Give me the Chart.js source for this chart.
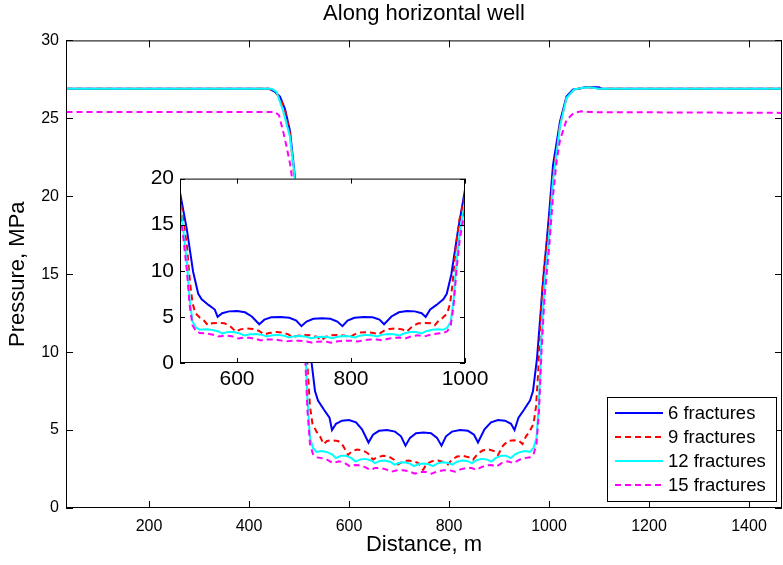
<!DOCTYPE html>
<html>
<head>
<meta charset="utf-8">
<script src="https://cdn.jsdelivr.net/npm/chart.js@4.4.0/dist/chart.umd.min.js"></script>
<style>
  body { margin: 0; background: #fff; }
  #wrap { position: relative; width: 783px; height: 565px; }
  #main { position: absolute; left: 0; top: 0; }
  #inset { position: absolute; left: 130px; top: 160px; }
</style>
</head>
<body>
<div id="wrap">
  <canvas id="main" width="783" height="565"></canvas>
  <canvas id="inset" width="370" height="240"></canvas>
</div>
<script>
// pressure profiles along the horizontal well (distance in m, pressure in MPa)
var dist6 = [35, 440, 452, 462, 472, 482, 490, 500, 512, 523, 532, 538, 550, 561, 566,
  574, 586, 600, 614, 626, 639, 648, 660, 676, 692, 704, 713, 722, 734, 749, 764, 776, 785,
  794, 806, 822, 838, 850, 858, 871, 884, 898, 912, 924, 931, 939, 950, 962, 968, 976, 988,
  1000, 1008, 1022, 1035, 1048, 1060, 1072, 1100, 1105, 1465];
var pres6 = [26.9, 26.9, 26.7, 26.4, 25.6, 24.2, 21.8, 18.5, 14.5, 9.9, 7.5, 6.9, 6.3, 5.8, 5.0,
  5.4, 5.6, 5.65, 5.5, 5.05, 4.2, 4.7, 4.95, 5.0, 4.9, 4.6, 4.0, 4.5, 4.8, 4.85, 4.8, 4.5, 4.0,
  4.6, 4.9, 5.0, 4.95, 4.7, 4.2, 5.05, 5.5, 5.65, 5.6, 5.4, 5.0, 5.8, 6.3, 6.9, 7.5, 9.6, 14.5,
  18.8, 22.0, 24.8, 26.4, 26.85, 26.9, 27.0, 27.0, 26.9, 26.9];

var dist9 = [35, 440, 452, 462, 472, 482, 490, 500, 506, 512, 518, 522, 527, 535, 542, 549,
  556, 566, 578, 588, 598, 606, 616, 628, 638, 648, 656, 668, 680, 690, 698, 706, 718, 730, 740,
  748, 756, 766, 778, 790, 798, 806, 816, 828, 840, 848, 858, 868, 880, 890, 898, 908, 918, 930,
  940, 947, 954, 961, 969, 974, 978, 984, 990, 1000, 1008, 1022, 1035, 1050, 1065, 1080, 1100, 1465];
var pres9 = [26.9, 26.9, 26.7, 26.3, 25.5, 24.0, 21.4, 17.8, 15.5, 12.7, 8.5, 6.5, 5.4, 4.9, 4.6, 4.1,
  4.3, 4.35, 4.3, 4.0, 3.4, 3.65, 3.75, 3.7, 3.5, 3.1, 3.25, 3.35, 3.3, 3.1, 2.8, 2.95, 3.05, 3.0, 2.85,
  2.45, 2.85, 3.0, 3.05, 2.95, 2.8, 3.1, 3.3, 3.35, 3.25, 3.1, 3.5, 3.7, 3.75, 3.65, 3.4, 4.0, 4.3, 4.35,
  4.3, 4.1, 4.6, 4.9, 5.4, 6.5, 8.5, 12.7, 15.5, 18.2, 21.4, 24.6, 26.3, 26.85, 26.95, 27.0, 26.9, 26.9];

var dist12 = [35, 445, 455, 468, 482, 490, 500, 506, 512, 517, 522, 528, 535, 545, 555, 566,
  574, 584, 594, 605, 613, 623, 633, 644, 652, 662, 672, 683, 691, 701, 711, 722, 730, 740, 749,
  758, 768, 776, 787, 797, 807, 815, 826, 836, 846, 854, 865, 875, 885, 893, 904, 914, 924, 932,
  943, 953, 962, 969, 975, 980, 985, 991, 1000, 1008, 1022, 1035, 1050, 1065, 1080, 1100, 1465];
var pres12 = [26.9, 26.9, 26.7, 25.5, 23.8, 21.7, 17.2, 14.3, 11.0, 6.9, 4.5, 3.85, 3.6, 3.65, 3.6, 3.45,
  3.2, 3.35, 3.35, 3.2, 2.98, 3.12, 3.15, 3.05, 2.88, 3.02, 3.05, 2.95, 2.78, 2.9, 2.93, 2.85, 2.68, 2.82, 2.86,
  2.82, 2.68, 2.85, 2.93, 2.9, 2.78, 2.95, 3.05, 3.02, 2.88, 3.05, 3.15, 3.12, 2.98, 3.2, 3.35, 3.35, 3.2, 3.45,
  3.6, 3.65, 3.6, 3.85, 4.5, 6.9, 11.0, 14.3, 17.3, 21.0, 24.5, 26.3, 26.85, 26.95, 27.0, 26.9, 26.9];

var dist15 = [35, 452, 460, 468, 475, 482, 490, 500, 506, 512, 517, 522, 528, 535, 545, 556,
  568, 580, 591, 602, 612, 622, 632, 642, 652, 663, 674, 685, 696, 708, 720, 732, 741, 749, 757,
  765, 777, 789, 801, 812, 823, 834, 845, 855, 865, 875, 885, 895, 906, 917, 929, 941, 952, 962,
  969, 975, 980, 985, 991, 1000, 1008, 1015, 1022, 1035, 1050, 1065, 1080, 1465];
var pres15 = [25.4, 25.4, 25.2, 24.2, 23.2, 22.1, 20.3, 16.4, 13.5, 10.0, 6.2, 4.1, 3.45, 3.25, 3.2, 3.1,
  2.88, 3.0, 2.9, 2.66, 2.76, 2.74, 2.62, 2.45, 2.56, 2.56, 2.48, 2.33, 2.42, 2.42, 2.35, 2.2, 2.3, 2.32, 2.3,
  2.2, 2.35, 2.42, 2.42, 2.33, 2.48, 2.56, 2.56, 2.45, 2.62, 2.74, 2.76, 2.66, 2.9, 3.0, 2.88, 3.1, 3.2, 3.25,
  3.45, 4.1, 6.2, 10.0, 13.5, 16.6, 20.0, 22.2, 23.6, 24.9, 25.35, 25.45, 25.4, 25.35];

var seriesNames = ['6 fractures', '9 fractures', '12 fractures', '15 fractures'];
var xTicks = [200, 400, 600, 800, 1000, 1200, 1400];
var yTicks = [0, 5, 10, 15, 20, 25, 30];
var insetXTicks = [600, 800, 1000];
var insetYTicks = [0, 5, 10, 15, 20];

Chart.defaults.font.family = "'Liberation Sans', Arial, sans-serif";
Chart.defaults.color = '#000';

function pts(xs, ys) {
  return xs.map(function (x, i) { return { x: x, y: ys[i] }; });
}

function makeDatasets() {
  var styles = [
    { color: '#0000ff', dash: [], order: 4 },
    { color: '#ff0000', dash: [6, 4], order: 3 },
    { color: '#00ffff', dash: [], order: 2 },
    { color: '#ff00ff', dash: [6, 4], order: 1 }
  ];
  var data = [pts(dist6, pres6), pts(dist9, pres9), pts(dist12, pres12), pts(dist15, pres15)];
  return data.map(function (d, i) {
    return {
      label: seriesNames[i],
      data: d,
      borderColor: styles[i].color,
      borderDash: styles[i].dash,
      borderWidth: 2,
      pointRadius: 0,
      tension: 0,
      fill: false,
      order: styles[i].order
    };
  });
}

// box round the axes with inward tick marks on all four sides
function boxPlugin(xt, yt, len) {
  return {
    id: 'box',
    beforeDraw: function (chart) {
      var a = chart.chartArea, c = chart.ctx;
      c.save();
      c.fillStyle = '#fff';
      c.fillRect(a.left, a.top, a.right - a.left, a.bottom - a.top);
      c.restore();
    },
    afterDraw: function (chart) {
      var a = chart.chartArea, c = chart.ctx;
      var sx = chart.scales.x, sy = chart.scales.y;
      c.save();
      c.strokeStyle = '#000';
      c.lineWidth = 1;
      c.strokeRect(a.left + 0.5, a.top + 0.5, a.right - a.left - 1, a.bottom - a.top - 1);
      c.beginPath();
      xt.forEach(function (v) {
        var px = Math.round(sx.getPixelForValue(v)) + 0.5;
        c.moveTo(px, a.bottom); c.lineTo(px, a.bottom - len);
        c.moveTo(px, a.top); c.lineTo(px, a.top + len);
      });
      yt.forEach(function (v) {
        var py = Math.round(sy.getPixelForValue(v)) + 0.5;
        c.moveTo(a.left, py); c.lineTo(a.left + len, py);
        c.moveTo(a.right, py); c.lineTo(a.right - len, py);
      });
      c.stroke();
      c.restore();
    }
  };
}

var legendBox = {
  id: 'legendBox',
  afterDraw: function (chart) {
    var c = chart.ctx;
    var x0 = 607, y0 = 397, w = 169, h = 104;
    c.save();
    c.fillStyle = '#fff';
    c.fillRect(x0, y0, w, h);
    c.strokeStyle = '#000';
    c.lineWidth = 1;
    c.strokeRect(x0 + 0.5, y0 + 0.5, w, h);
    c.font = "18.5px 'Liberation Sans', Arial, sans-serif";
    c.textBaseline = 'middle';
    c.fillStyle = '#000';
    chart.data.datasets.forEach(function (ds, i) {
      var y = y0 + 16 + i * 24;
      c.beginPath();
      c.strokeStyle = ds.borderColor;
      c.lineWidth = 2;
      c.setLineDash(ds.borderDash);
      c.moveTo(615, y); c.lineTo(663, y);
      c.stroke();
      c.setLineDash([]);
      c.fillText(ds.label, 668, y + 1);
    });
    c.restore();
  }
};

function fixTicks(list) {
  return function (scale) {
    scale.ticks = list.map(function (v) { return { value: v }; });
  };
}

function plain(v) { return String(v); }

new Chart(document.getElementById('main'), {
  type: 'line',
  data: { datasets: makeDatasets() },
  options: {
    responsive: false,
    animation: false,
    devicePixelRatio: 1,
    layout: { padding: { left: 0, right: 1, top: 0, bottom: 0 } },
    plugins: {
      legend: { display: false },
      tooltip: { enabled: false },
      title: {
        display: true,
        text: 'Along horizontal well',
        fullSize: false,
        color: '#000',
        font: { size: 22, weight: 'normal' },
        padding: { top: 1, bottom: 13 }
      }
    },
    scales: {
      x: {
        type: 'linear',
        min: 34,
        max: 1466,
        grid: { display: false, drawTicks: false },
        border: { display: false },
        afterBuildTicks: fixTicks(xTicks),
        afterFit: function (s) { s.height = 57; },
        ticks: { font: { size: 16 }, padding: 9, maxRotation: 0, callback: plain },
        title: { display: true, text: 'Distance, m', font: { size: 22 }, padding: { top: 7, bottom: 7 } }
      },
      y: {
        min: 0,
        max: 30,
        grid: { display: false, drawTicks: false },
        border: { display: false },
        afterBuildTicks: fixTicks(yTicks),
        afterFit: function (s) { s.width = 66; },
        ticks: { font: { size: 16 }, padding: 7, callback: plain },
        title: { display: true, text: 'Pressure, MPa', font: { size: 22 }, padding: { top: 5, bottom: 5 } }
      }
    }
  },
  plugins: [boxPlugin(xTicks, yTicks, 7), legendBox]
});

new Chart(document.getElementById('inset'), {
  type: 'line',
  data: { datasets: makeDatasets() },
  options: {
    responsive: false,
    animation: false,
    devicePixelRatio: 1,
    layout: { padding: { left: 0, right: 35, top: 15, bottom: 0 } },
    plugins: { legend: { display: false }, tooltip: { enabled: false }, title: { display: false } },
    scales: {
      x: {
        type: 'linear',
        min: 500,
        max: 1000,
        grid: { display: false, drawTicks: false },
        border: { display: false },
        afterBuildTicks: fixTicks(insetXTicks),
        afterFit: function (s) { s.height = 37; },
        ticks: { font: { size: 21 }, padding: 4, maxRotation: 0, callback: plain }
      },
      y: {
        min: 0,
        max: 20,
        grid: { display: false, drawTicks: false },
        border: { display: false },
        afterBuildTicks: fixTicks(insetYTicks),
        afterFit: function (s) { s.width = 50; },
        ticks: { font: { size: 21 }, padding: 6, callback: plain }
      }
    }
  },
  plugins: [boxPlugin(insetXTicks, insetYTicks, 5)]
});
</script>
</body>
</html>
